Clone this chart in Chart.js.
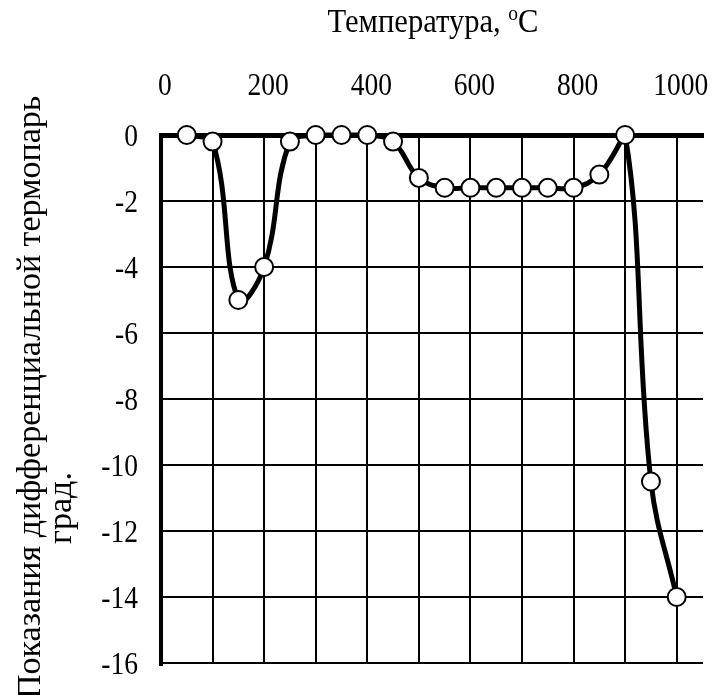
<!DOCTYPE html>
<html>
<head>
<meta charset="utf-8">
<script src="https://cdn.jsdelivr.net/npm/chart.js@4"></script>
<style>
  body { margin: 0; background: #fff; }
  #wrap { width: 718px; height: 695px; }
</style>
</head>
<body>
<div id="wrap"><canvas id="dtaChart" width="718" height="695"></canvas></div>
<script>
// температура, °C
const temps = [50, 100, 150, 200, 250, 300, 350, 400, 450, 500, 550, 600, 650, 700, 750, 800, 850, 900, 950, 1000];
// показания дифференциальной термопары, град.
const readings = [0, -0.2, -5, -4, -0.2, 0, 0, 0, -0.2, -1.3, -1.6, -1.6, -1.6, -1.6, -1.6, -1.6, -1.2, 0, -10.5, -14];
const xTickLabels = [0, 200, 400, 600, 800, 1000];
const yTickLabels = [0, -2, -4, -6, -8, -10, -12, -14, -16];

const FONT = "'Liberation Serif', 'Times New Roman', serif";

// narrow text like the original picture
function squeezed(c, text, x, y, size, sx, align) {
    c.save();
    c.font = size + "px " + FONT;
    const w = c.measureText(text).width * sx;
    let left = x;
    if (align === "center") left = x - w / 2;
    if (align === "right") left = x - w;
    c.translate(left, y);
    c.scale(sx, 1);
    c.textAlign = "left";
    c.fillText(text, 0, 0);
    c.restore();
}

const labels = {
    id: "labels",
    afterDraw(chart) {
        const c = chart.ctx;
        const xs = chart.scales.x, ys = chart.scales.y;
        c.save();
        c.fillStyle = "#000";
        c.textBaseline = "alphabetic";

        // tick labels
        xTickLabels.forEach(v => {
            squeezed(c, String(v), xs.getPixelForValue(v) + 4, 95, 32, 0.86, "center");
        });
        yTickLabels.forEach(v => {
            squeezed(c, String(v), 138, ys.getPixelForValue(v) + 11, 32, 0.86, "right");
        });

        // x title with superscript o
        const a = "Температура, ", b = "o", d = "C";
        c.font = "33px " + FONT;
        const wa = c.measureText(a).width, wd = c.measureText(d).width;
        c.font = "21px " + FONT;
        const wb = c.measureText(b).width;
        const sx = 211 / (wa + wb + wd);
        const x0 = 433 - 105.5;
        squeezed(c, a, x0, 32, 33, sx, "left");
        squeezed(c, b, x0 + wa * sx, 20, 21, sx, "left");
        squeezed(c, d, x0 + (wa + wb) * sx, 32, 33, sx, "left");

        // y title, rotated
        c.save();
        c.translate(40, 699);
        c.rotate(-Math.PI / 2);
        c.textAlign = "left";
        c.font = "34px " + FONT;
        c.fillText("Показания дифференциальной термопарь", 0, 0);
        c.restore();
        c.save();
        c.translate(71, 508);
        c.rotate(-Math.PI / 2);
        c.textAlign = "center";
        c.font = "34px " + FONT;
        c.fillText("град.", 0, 0);
        c.restore();
        c.restore();
    }
};

new Chart(document.getElementById("dtaChart"), {
    type: "line",
    data: {
        datasets: [{
            data: temps.map((t, i) => ({ x: t, y: readings[i] })),
            borderColor: "#000",
            borderWidth: 5,
            tension: 0.4,
            pointRadius: 9,
            pointBorderWidth: 2,
            pointBorderColor: "#000",
            pointBackgroundColor: "#fff",
            clip: false
        }]
    },
    options: {
        responsive: false,
        animation: false,
        layout: { padding: { top: 0, right: 15, bottom: 32, left: 0 } },
        plugins: {
            legend: { display: false },
            tooltip: { enabled: false }
        },
        scales: {
            x: {
                type: "linear",
                position: "top",
                min: 0,
                max: 1051,
                afterFit: s => { s.height = 135; s.paddingLeft = 0; s.paddingRight = 0; },
                afterBuildTicks: s => {
                    const ticks = [];
                    for (let v = 0; v <= 1000; v += 100) ticks.push({ value: v });
                    s.ticks = ticks;
                },
                ticks: { display: false },
                grid: {
                    color: "#000",
                    lineWidth: 2,
                    drawTicks: false
                },
                border: { display: true, color: "#000", width: 5 }
            },
            y: {
                min: -16,
                max: 0,
                afterFit: s => { s.width = 161; },
                afterBuildTicks: s => {
                    s.ticks = yTickLabels.map(v => ({ value: v }));
                },
                ticks: { display: false },
                grid: {
                    color: "#000",
                    lineWidth: ctx => ctx.tick && ctx.tick.value === 0 ? 5 : 2,
                    drawTicks: false
                },
                border: { display: true, color: "#000", width: 4 }
            }
        }
    },
    plugins: [labels]
});
</script>
</body>
</html>
